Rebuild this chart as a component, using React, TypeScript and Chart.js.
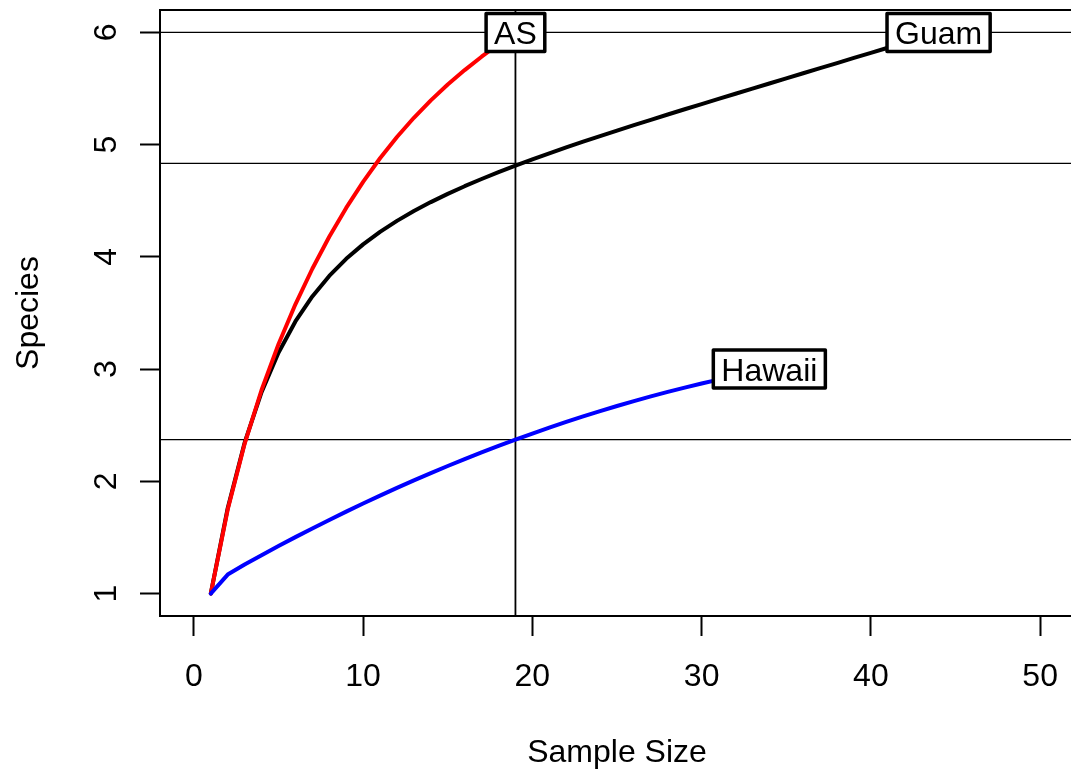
import React, { useEffect, useRef } from "react";
import { Chart, registerables } from "chart.js";

Chart.register(...registerables);

// Rarefaction curves: expected species vs. sample size
const asSpecies = [
  1.0, 1.7485, 2.3344, 2.8138, 3.2211, 3.5775, 3.8943, 4.1793, 4.4364, 4.6687,
  4.8786, 5.0681, 5.2394, 5.3946, 5.5356, 5.6646, 5.7836, 5.8947, 6.0,
];
const guamSpecies = [
  1.0, 1.7611, 2.3441, 2.7944, 3.1461, 3.4244, 3.6479, 3.8305, 3.9825, 4.1114,
  4.2228, 4.3209, 4.4086, 4.4883, 4.5616, 4.6299, 4.6942, 4.755, 4.8132, 4.869,
  4.923, 4.9755, 5.0266, 5.0766, 5.1257, 5.1739, 5.2216, 5.2687, 5.3154, 5.3618,
  5.4079, 5.4538, 5.4996, 5.5452, 5.5908, 5.6364, 5.6818, 5.7273, 5.7727, 5.8182,
  5.8636, 5.9091, 5.9545, 6.0,
];
const hawaiiSpecies = [
  1.0, 1.1693, 1.2591, 1.3422, 1.4234, 1.5027, 1.5802, 1.656, 1.7299, 1.8021,
  1.8725, 1.9412, 2.008, 2.0731, 2.1364, 2.1979, 2.2576, 2.3155, 2.3717, 2.426,
  2.4786, 2.5294, 2.5784, 2.6257, 2.6711, 2.7148, 2.7567, 2.7968, 2.8351, 2.8717,
  2.9064, 2.9394, 2.9706, 3.0,
];

const siteNames = ["AS", "Guam", "Hawaii"];
const siteMaxSample = [19, 44, 34];
const siteMaxSpecies = [6, 6, 3];

const rarefySample = 19;
const rarefiedSpecies = [6, 4.833, 2.372];

const xTickStep = 10;
const yTickStep = 1;
const xTitle = "Sample Size";
const yTitle = "Species";

const CANVAS_W = 1090;
const CANVAS_H = 771;
const FONT = '"Liberation Sans", Arial, Helvetica, sans-serif';
const FS = 32;

const toPoints = (arr: number[]) => arr.map((y, i) => ({ x: i + 1, y }));

const overlayPlugin = {
  id: "overlay",
  beforeDatasetsDraw(chart: any) {
    const { ctx, chartArea: a, scales } = chart;
    const x = scales.x;
    const y = scales.y;
    ctx.save();
    ctx.strokeStyle = "#000";
    ctx.lineWidth = 1.3;
    rarefiedSpecies.forEach((v) => {
      const py = y.getPixelForValue(v);
      ctx.beginPath();
      ctx.moveTo(a.left, py);
      ctx.lineTo(a.right, py);
      ctx.stroke();
    });
    ctx.lineWidth = 1.8;
    const px = x.getPixelForValue(rarefySample);
    ctx.beginPath();
    ctx.moveTo(px, a.top);
    ctx.lineTo(px, a.bottom);
    ctx.stroke();
    ctx.restore();
  },
  afterDatasetsDraw(chart: any) {
    const { ctx, chartArea: a, scales } = chart;
    const x = scales.x;
    const y = scales.y;
    ctx.save();
    // site labels in boxes
    ctx.font = `${FS}px ${FONT}`;
    ctx.textAlign = "center";
    ctx.textBaseline = "alphabetic";
    siteNames.forEach((name, i) => {
      const cx = x.getPixelForValue(siteMaxSample[i]);
      const cy = y.getPixelForValue(siteMaxSpecies[i]);
      const w = ctx.measureText(name).width + 16;
      const h = 38;
      ctx.fillStyle = "#fff";
      ctx.fillRect(cx - w / 2, cy - h / 2, w, h);
      ctx.strokeStyle = "#000";
      ctx.lineWidth = 3.5;
      ctx.lineJoin = "round";
      ctx.strokeRect(cx - w / 2, cy - h / 2, w, h);
      ctx.fillStyle = "#000";
      ctx.fillText(name, cx, cy + 11.5);
    });
    // plot box
    ctx.strokeStyle = "#000";
    ctx.lineWidth = 2;
    ctx.lineJoin = "miter";
    ctx.strokeRect(a.left, a.top, a.right - a.left, a.bottom - a.top);

    // tick labels
    ctx.fillStyle = "#000";
    ctx.font = `${FS}px ${FONT}`;
    ctx.textAlign = "center";
    ctx.textBaseline = "alphabetic";
    x.ticks.forEach((t: any) => {
      ctx.fillText(String(t.value), x.getPixelForValue(t.value), a.bottom + 70);
    });
    y.ticks.forEach((t: any) => {
      ctx.save();
      ctx.translate(a.left - 44.5, y.getPixelForValue(t.value));
      ctx.rotate(-Math.PI / 2);
      ctx.fillText(String(t.value), 0, 0);
      ctx.restore();
    });
    // axis titles
    ctx.fillText(xTitle, (a.left + a.right) / 2, a.bottom + 146);
    ctx.save();
    ctx.translate(38, (a.top + a.bottom) / 2);
    ctx.rotate(-Math.PI / 2);
    ctx.fillText(yTitle, 0, 0);
    ctx.restore();
    ctx.restore();
  },
};

export default function App() {
  const canvasRef = useRef<HTMLCanvasElement | null>(null);

  useEffect(() => {
    const canvas = canvasRef.current;
    if (!canvas) return;
    const lineCommon = {
      pointRadius: 0,
      borderWidth: 4,
      tension: 0,
      fill: false,
      borderCapStyle: "round" as const,
      borderJoinStyle: "round" as const,
    };
    const chart = new Chart(canvas, {
      type: "line",
      data: {
        datasets: [
          { label: siteNames[2], data: toPoints(hawaiiSpecies), borderColor: "#0000FF", order: 0, ...lineCommon },
          { label: siteNames[0], data: toPoints(asSpecies), borderColor: "#FF0000", order: 1, ...lineCommon },
          { label: siteNames[1], data: toPoints(guamSpecies), borderColor: "#000000", order: 2, ...lineCommon },
        ],
      },
      options: {
        responsive: false,
        animation: false,
        devicePixelRatio: 1,
        layout: { padding: { top: 10, right: CANVAS_W - 1074, left: 0, bottom: 0 } },
        plugins: { legend: { display: false }, tooltip: { enabled: false } },
        scales: {
          x: {
            type: "linear",
            min: -2,
            max: 52,
            ticks: { stepSize: xTickStep, includeBounds: false, display: false },
            grid: { drawOnChartArea: false, drawTicks: true, tickLength: 20, tickWidth: 2, tickColor: "#000" },
            border: { display: false },
            afterFit: (s: any) => {
              s.height = 155;
            },
          },
          y: {
            type: "linear",
            min: 0.8,
            max: 6.2,
            ticks: { stepSize: yTickStep, includeBounds: false, display: false },
            grid: { drawOnChartArea: false, drawTicks: true, tickLength: 20, tickWidth: 2, tickColor: "#000" },
            border: { display: false },
            afterFit: (s: any) => {
              s.width = 160;
            },
          },
        },
      },
      plugins: [overlayPlugin],
    } as any);
    return () => chart.destroy();
  }, []);

  return (
    <div
      style={{
        position: "fixed",
        left: 0,
        top: 0,
        width: 1071,
        height: 771,
        overflow: "hidden",
        background: "#fff",
      }}
    >
      <canvas
        ref={canvasRef}
        width={CANVAS_W}
        height={CANVAS_H}
        style={{ display: "block", width: CANVAS_W, height: CANVAS_H }}
      />
    </div>
  );
}
